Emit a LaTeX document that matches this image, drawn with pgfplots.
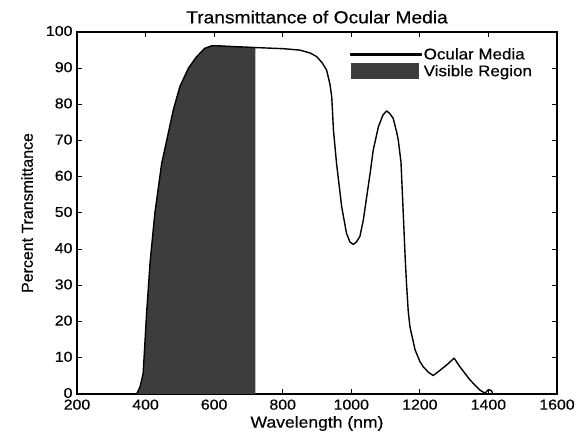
\documentclass[border=0pt]{standalone}
\usepackage{fontspec}
\setmainfont{Liberation Sans}[FakeStretch=1.1, FakeBold=0.4]
\newfontfamily\ylabfont{Liberation Sans}[FakeBold=0.4]
\usepackage{pgfplots}
\pgfplotsset{compat=1.18}
\pgfplotsset{
  mylinelegend/.style={legend image code/.code={\fill[black] (0bp,-0.8bp) rectangle (70bp,0.8bp);}},
  myarealegend/.style={legend image code/.code={\fill[##1] (0bp,-8bp) rectangle (68bp,8bp);}},
}
\begin{document}
\begin{tikzpicture}
\begin{axis}[
  scale only axis,
  width=480bp, height=362bp,
  xmin=200, xmax=1600, ymin=0, ymax=100,
  xtick={200,400,...,1600},
  ytick={0,10,...,100},
  tick align=inside,
  xtick pos=both, ytick pos=both,
  major tick length=5bp,
  axis line style={line width=1.3bp},
  every tick/.style={black, line width=1bp},
  /pgf/number format/assume math mode=true,
  /pgf/number format/1000 sep={},
  ticklabel style={font=\fontsize{14.5}{15}\selectfont},
  xticklabel style={yshift=-2bp},
  yticklabel style={xshift=-1bp, yshift=1bp},
  title={Transmittance of Ocular Media},
  title style={font=\fontsize{17.5}{19}\selectfont, yshift=-1bp},
  xlabel={Wavelength (nm)},
  xlabel style={font=\fontsize{16}{17}\selectfont, yshift=0.5bp},
  ylabel={\ylabfont Percent Transmittance},
  ylabel style={font=\fontsize{16}{17}\selectfont, at={(axis description cs:-0.104,0.5)}, anchor=center},
  legend style={draw=none, fill=none, at={(axis description cs:0.569,0.96)}, anchor=north west,
    font=\fontsize{15.5}{17}\selectfont, row sep=1bp,
    inner xsep=0pt, inner ysep=0pt,
    nodes={inner xsep=2bp, inner ysep=1.5bp}},
  legend cell align=left,
]
\addplot[draw=none, fill=black!76, forget plot] coordinates {
(374,0) (384,2) (393,5.7) (403,22.3) (413,36.1) (427,49.9) (447,63.7) (462,70.2)
(481,78.5) (500,84.9) (525,90) (549,93.2) (573,95.5) (593,96.2) (610,96.2)
(650,96.0) (700,95.8) (720,95.7) (720,0)
} \closedcycle;
\addplot[black, line width=1.4bp, line join=round, mylinelegend] coordinates {
(374,0) (384,2) (393,5.7) (403,22.3) (413,36.1) (427,49.9) (447,63.7) (462,70.2)
(481,78.5) (500,84.9) (525,90) (549,93.2) (573,95.5) (593,96.2) (610,96.2)
(650,96.0) (700,95.8) (720,95.7) (800,95.4) (850,95.0) (880,94.2) (899,93.2)
(915,91.5) (928,89.5) (938,85.5) (943,82) (948,72.9) (957,63.7) (972,51.7)
(986,44.4) (996,42) (1006,41.3) (1015,42) (1025,43.5) (1035,48) (1045,54.5)
(1055,61) (1064,67.4) (1079,73.8) (1092,77) (1103,78.2) (1112,77.5) (1122,76.2)
(1132,72.5) (1137,70.2) (1145,64) (1152,49) (1157,38) (1161,30.6) (1166,23)
(1171,18.6) (1186,12.2) (1200,9) (1210,7.5) (1225,6) (1239,5.1) (1254,6.2)
(1278,8) (1300,9.9) (1317,7.5) (1346,3.9) (1375,1.1) (1390,0.2) (1400,1.2)
(1408,1.0) (1412,0.3)
};
\addlegendentry{Ocular Media}
\addlegendimage{draw=none, fill=black!76, myarealegend}
\addlegendentry{Visible Region}
\end{axis}
\pgfresetboundingbox
\path (current axis.south west) ++(-77bp,-46bp) rectangle ++(580bp,440bp);
\end{tikzpicture}
\end{document}
